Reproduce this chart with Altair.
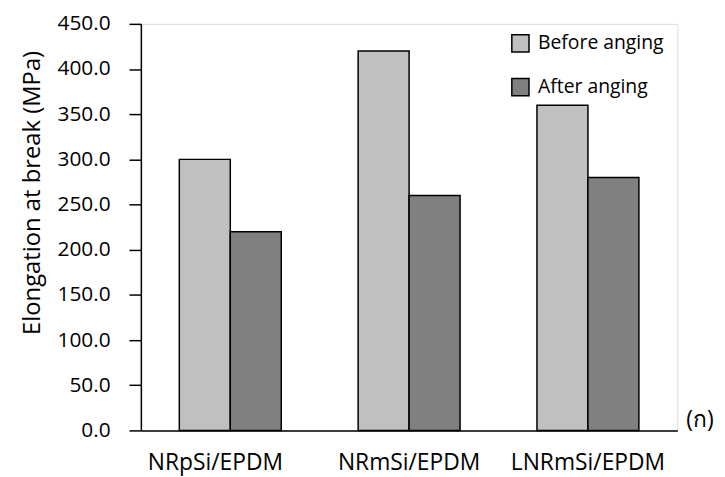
import altair as alt
import pandas as pd

categories = ["NRpSi/EPDM", "NRmSi/EPDM", "LNRmSi/EPDM"]
before = [300, 420, 360]
after = [220, 260, 280]
series = ["Before anging", "After anging"]
colors = ["#C0C0C0", "#808080"]

rows = []
for c, b, a in zip(categories, before, after):
    rows.append({"cat": c, "series": series[0], "value": b})
    rows.append({"cat": c, "series": series[1], "value": a})
df = pd.DataFrame(rows)

FONT = "Open Sans"

bars = alt.Chart(df).mark_bar(stroke="black", strokeWidth=1.5).encode(
    x=alt.X("cat:N", sort=categories, title=None,
            scale=alt.Scale(paddingInner=0.43, paddingOuter=0.215),
            axis=alt.Axis(labelAngle=0, ticks=False, labelFontSize=23, labelPadding=21,
                          labelColor="black", domainColor="black", domainWidth=1.5,
                          labelFont=FONT,
                          labelOffset={"condition": {"test": "datum.value === 'NRpSi/EPDM'", "value": -15},
                                       "value": 0})),
    xOffset=alt.XOffset("series:N", sort=series),
    y=alt.Y("value:Q", title="Elongation at break (MPa)",
            scale=alt.Scale(domain=[0, 450]),
            axis=alt.Axis(values=list(range(0, 451, 50)), format=".1f", grid=False,
                          tickSize=12, tickColor="black", tickWidth=1.5,
                          domainColor="black", domainWidth=1.5,
                          labelFontSize=21, labelColor="black", labelFont=FONT, labelPadding=19,
                          titleFontSize=24, titleFontWeight="normal", titleColor="black",
                          titleFont=FONT, titleX=-109, titleY=170, titleBaseline="middle")),
    color=alt.Color("series:N", sort=series,
                    scale=alt.Scale(domain=series, range=colors),
                    legend=alt.Legend(title=None, orient="none", legendX=373, legendY=10,
                                      symbolType="square", symbolSize=300,
                                      symbolStrokeColor="black", symbolStrokeWidth=1.5,
                                      labelFontSize=19.5, labelFont=FONT, labelColor="black",
                                      rowPadding=20, padding=0, labelOffset=8)),
)

label_df = pd.DataFrame({"t": ["(ก)"]})
label = alt.Chart(label_df).mark_text(align="left", baseline="middle", fontSize=23,
                                      font=FONT, color="black").encode(
    x=alt.value(550), y=alt.value(400), text="t:N")

chart = alt.layer(bars, label).properties(
    width=541, height=410,
    autosize=alt.AutoSizeParams(type="none"),
    padding={"left": 134, "top": 14, "right": 40, "bottom": 47},
).configure_view(stroke="black", strokeWidth=1.5).configure(background="white")

chart.save("out.html", embed_options={"renderer": "svg", "actions": False})
